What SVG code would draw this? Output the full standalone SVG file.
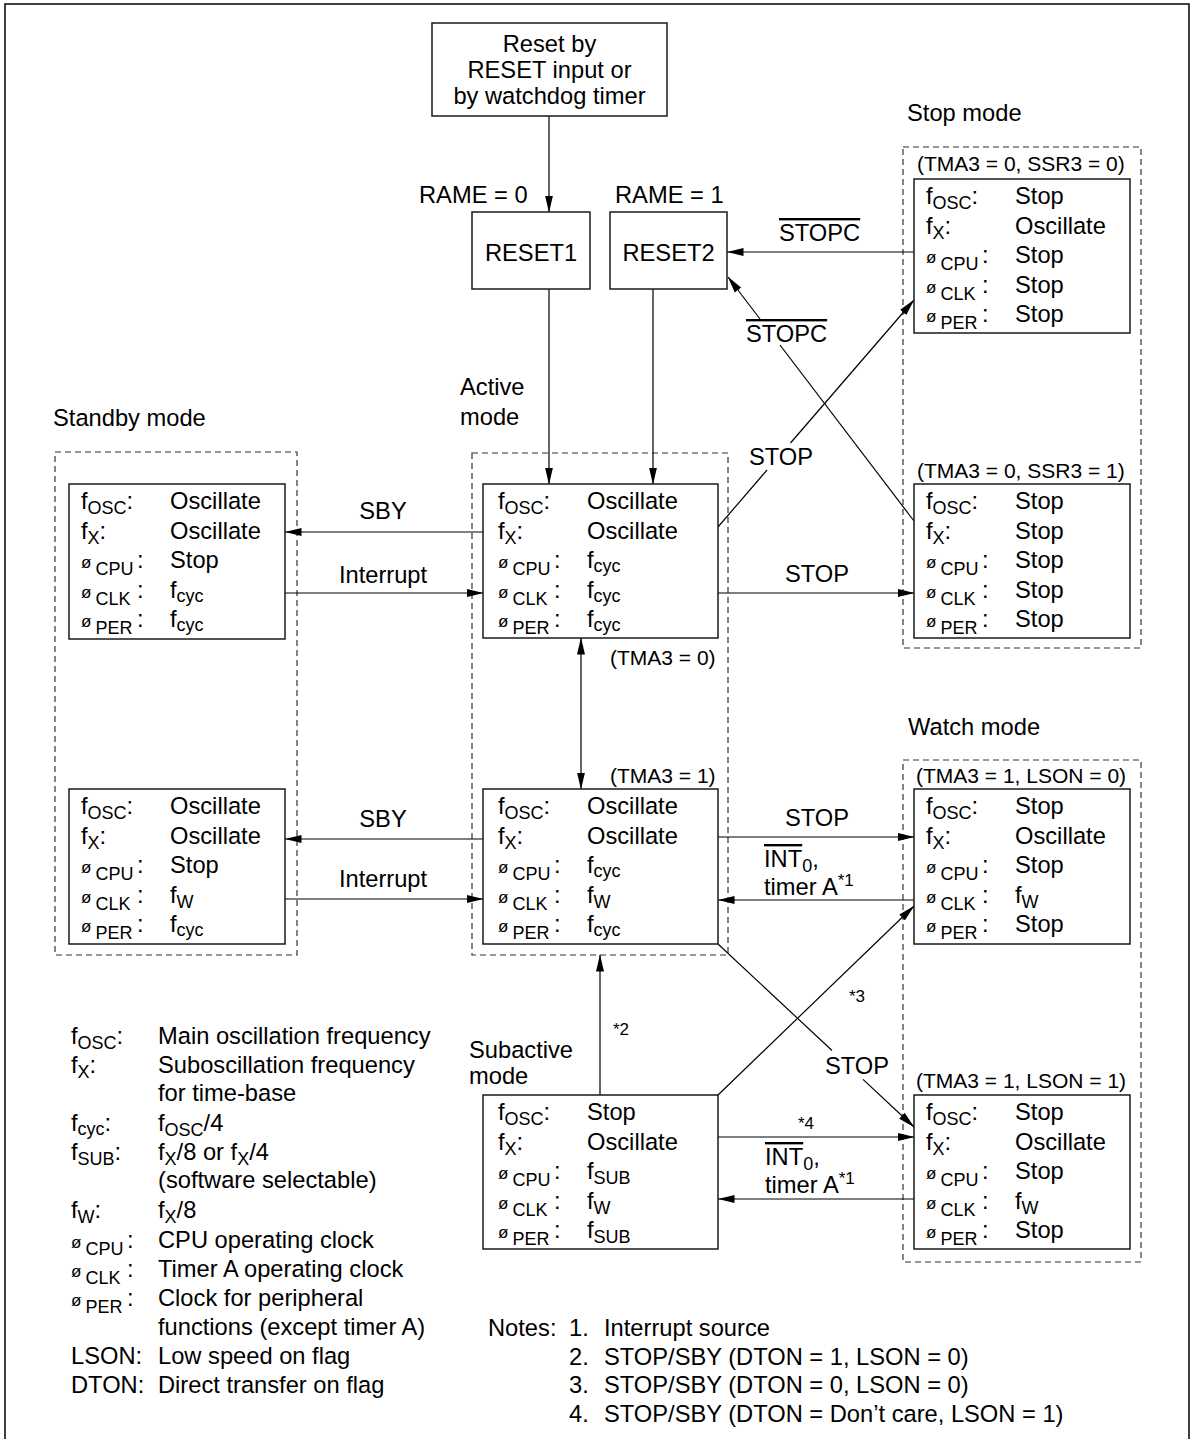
<svg xmlns="http://www.w3.org/2000/svg" width="1197" height="1439" viewBox="0 0 1197 1439">
<style>
text{font-family:"Liberation Sans",Arial,Helvetica,sans-serif;font-size:23.7px;fill:#000}
.s{font-size:18px}
.p{font-size:17px}
.tm{font-size:21px}
.sm{font-size:17px}
.box{fill:#fff;stroke:#1a1a1a;stroke-width:1.5}
.dash{fill:none;stroke:#333;stroke-width:1.2;stroke-dasharray:6 4}
.ln{fill:none;stroke:#000;stroke-width:1.2}
.a{marker-end:url(#ah)}
.aa{marker-end:url(#ah);marker-start:url(#ah)}
.mid{text-anchor:middle}
.ov{text-decoration:overline}
</style>
<defs>
<marker id="ah" markerUnits="userSpaceOnUse" viewBox="0 0 17 9" markerWidth="17" markerHeight="9" refX="16.5" refY="4.5" orient="auto-start-reverse">
<path d="M0,0.5 L17,4.5 L0,8.5 z" fill="#000"/>
</marker>
</defs>
<rect width="1197" height="1439" fill="#fff"/>
<path d="M5,1445 V4 H1189 V1445" fill="none" stroke="#000" stroke-width="1.5"/>

<g id="containers">
<rect class="dash" x="55" y="452" width="242" height="503"/>
<rect class="dash" x="472" y="453" width="256" height="502"/>
<rect class="dash" x="903" y="147" width="238" height="501"/>
<rect class="dash" x="903" y="760" width="238" height="502"/>
<text x="53" y="426">Standby mode</text>
<text x="460" y="395">Active</text>
<text x="460" y="425">mode</text>
<text x="907" y="121">Stop mode</text>
<text x="908" y="735">Watch mode</text>
<text x="469" y="1058">Subactive</text>
<text x="469" y="1084">mode</text>
</g>

<g id="connectors">
<path class="ln a" d="M549,116 V212"/>
<path class="ln a" d="M549,289 V484"/>
<path class="ln a" d="M653,289 V484"/>
<path class="ln a" d="M914,252 H727"/>
<path class="ln" d="M914,521 L780,345"/>
<path class="ln a" d="M760,319 L728,277"/>
<path class="ln" d="M718,527 L767,470"/>
<path class="ln a" d="M790.5,443 L914,300"/>
<path class="ln a" d="M718,593 H914"/>
<path class="ln a" d="M483,532 H285"/>
<path class="ln a" d="M285,593 H483"/>
<path class="ln aa" d="M581,638 V789"/>
<path class="ln a" d="M483,839 H285"/>
<path class="ln a" d="M285,899 H483"/>
<path class="ln a" d="M718,837 H914"/>
<path class="ln a" d="M914,900 H718"/>
<path class="ln a" d="M600,1095 V955"/>
<path class="ln a" d="M718,1095 L914,906"/>
<path class="ln" d="M718,944 L832,1050.5"/>
<path class="ln a" d="M863,1079.4 L914,1127"/>
<path class="ln a" d="M718,1137 H914"/>
<path class="ln a" d="M914,1199 H718"/>
</g>

<g id="connector-labels">
<text x="779" y="241" class="ov">STOPC</text>
<text x="746" y="342" class="ov">STOPC</text>
<text x="749" y="465">STOP</text>
<text x="817" y="582" class="mid">STOP</text>
<text x="383" y="519" class="mid">SBY</text>
<text x="383" y="583" class="mid">Interrupt</text>
<text x="383" y="827" class="mid">SBY</text>
<text x="383" y="887" class="mid">Interrupt</text>
<text x="817" y="826" class="mid">STOP</text>
<text x="764" y="867"><tspan class="ov">INT</tspan><tspan class="s" dy="5">0</tspan><tspan dy="-5">,</tspan></text>
<text x="764" y="895">timer A<tspan class="p" dy="-9">*1</tspan></text>
<text x="849" y="1002" class="sm">*3</text>
<text x="613" y="1035" class="sm">*2</text>
<text x="825" y="1074">STOP</text>
<text x="798" y="1129" class="sm">*4</text>
<text x="765" y="1165"><tspan class="ov">INT</tspan><tspan class="s" dy="5">0</tspan><tspan dy="-5">,</tspan></text>
<text x="765" y="1193">timer A<tspan class="p" dy="-9">*1</tspan></text>
<text x="419" y="203">RAME = 0</text>
<text x="615" y="203">RAME = 1</text>
<text x="610" y="665" class="tm">(TMA3 = 0)</text>
<text x="610" y="783" class="tm">(TMA3 = 1)</text>
<text x="917" y="171" class="tm">(TMA3 = 0, SSR3 = 0)</text>
<text x="917" y="478" class="tm">(TMA3 = 0, SSR3 = 1)</text>
<text x="916" y="783" class="tm">(TMA3 = 1, LSON = 0)</text>
<text x="916" y="1088" class="tm">(TMA3 = 1, LSON = 1)</text>
</g>

<g id="reset-source">
<rect class="box" x="432" y="23" width="235" height="93"/>
<text x="549.5" y="52" class="mid">Reset by</text>
<text x="549.5" y="78" class="mid">RESET input or</text>
<text x="549.5" y="104" class="mid">by watchdog timer</text>
</g>

<g id="reset1">
<rect class="box" x="472" y="212" width="118" height="77"/>
<text x="531" y="261" class="mid">RESET1</text>
</g>

<g id="reset2">
<rect class="box" x="610" y="212" width="117" height="77"/>
<text x="668.5" y="261" class="mid">RESET2</text>
</g>

<g id="standby-1">
<rect class="box" x="69" y="484" width="216" height="155"/>
<text x="81" y="509">f<tspan class="s" dy="5">OSC</tspan><tspan dy="-5">:</tspan></text>
<text x="81" y="538.5">f<tspan class="s" dy="5">X</tspan><tspan dy="-5">:</tspan></text>
<text x="81" y="568"><tspan class="p">ø</tspan><tspan class="s" dx="4" dy="7">CPU</tspan><tspan x="137" dy="-7">:</tspan></text>
<text x="81" y="597.5"><tspan class="p">ø</tspan><tspan class="s" dx="4" dy="7">CLK</tspan><tspan x="137" dy="-7">:</tspan></text>
<text x="81" y="627"><tspan class="p">ø</tspan><tspan class="s" dx="4" dy="7">PER</tspan><tspan x="137" dy="-7">:</tspan></text>
<text x="170" y="509">Oscillate</text>
<text x="170" y="538.5">Oscillate</text>
<text x="170" y="568">Stop</text>
<text x="170" y="597.5">f<tspan class="s" dy="4">cyc</tspan></text>
<text x="170" y="627">f<tspan class="s" dy="4">cyc</tspan></text>
</g>

<g id="standby-2">
<rect class="box" x="69" y="789" width="216" height="155"/>
<text x="81" y="814">f<tspan class="s" dy="5">OSC</tspan><tspan dy="-5">:</tspan></text>
<text x="81" y="843.5">f<tspan class="s" dy="5">X</tspan><tspan dy="-5">:</tspan></text>
<text x="81" y="873"><tspan class="p">ø</tspan><tspan class="s" dx="4" dy="7">CPU</tspan><tspan x="137" dy="-7">:</tspan></text>
<text x="81" y="902.5"><tspan class="p">ø</tspan><tspan class="s" dx="4" dy="7">CLK</tspan><tspan x="137" dy="-7">:</tspan></text>
<text x="81" y="932"><tspan class="p">ø</tspan><tspan class="s" dx="4" dy="7">PER</tspan><tspan x="137" dy="-7">:</tspan></text>
<text x="170" y="814">Oscillate</text>
<text x="170" y="843.5">Oscillate</text>
<text x="170" y="873">Stop</text>
<text x="170" y="902.5">f<tspan class="s" dy="5">W</tspan></text>
<text x="170" y="932">f<tspan class="s" dy="4">cyc</tspan></text>
</g>

<g id="active-1">
<rect class="box" x="483" y="484" width="235" height="154"/>
<text x="498" y="509">f<tspan class="s" dy="5">OSC</tspan><tspan dy="-5">:</tspan></text>
<text x="498" y="538.5">f<tspan class="s" dy="5">X</tspan><tspan dy="-5">:</tspan></text>
<text x="498" y="568"><tspan class="p">ø</tspan><tspan class="s" dx="4" dy="7">CPU</tspan><tspan x="554" dy="-7">:</tspan></text>
<text x="498" y="597.5"><tspan class="p">ø</tspan><tspan class="s" dx="4" dy="7">CLK</tspan><tspan x="554" dy="-7">:</tspan></text>
<text x="498" y="627"><tspan class="p">ø</tspan><tspan class="s" dx="4" dy="7">PER</tspan><tspan x="554" dy="-7">:</tspan></text>
<text x="587" y="509">Oscillate</text>
<text x="587" y="538.5">Oscillate</text>
<text x="587" y="568">f<tspan class="s" dy="4">cyc</tspan></text>
<text x="587" y="597.5">f<tspan class="s" dy="4">cyc</tspan></text>
<text x="587" y="627">f<tspan class="s" dy="4">cyc</tspan></text>
</g>

<g id="active-2">
<rect class="box" x="483" y="789" width="235" height="155"/>
<text x="498" y="814">f<tspan class="s" dy="5">OSC</tspan><tspan dy="-5">:</tspan></text>
<text x="498" y="843.5">f<tspan class="s" dy="5">X</tspan><tspan dy="-5">:</tspan></text>
<text x="498" y="873"><tspan class="p">ø</tspan><tspan class="s" dx="4" dy="7">CPU</tspan><tspan x="554" dy="-7">:</tspan></text>
<text x="498" y="902.5"><tspan class="p">ø</tspan><tspan class="s" dx="4" dy="7">CLK</tspan><tspan x="554" dy="-7">:</tspan></text>
<text x="498" y="932"><tspan class="p">ø</tspan><tspan class="s" dx="4" dy="7">PER</tspan><tspan x="554" dy="-7">:</tspan></text>
<text x="587" y="814">Oscillate</text>
<text x="587" y="843.5">Oscillate</text>
<text x="587" y="873">f<tspan class="s" dy="4">cyc</tspan></text>
<text x="587" y="902.5">f<tspan class="s" dy="5">W</tspan></text>
<text x="587" y="932">f<tspan class="s" dy="4">cyc</tspan></text>
</g>

<g id="stop-1">
<rect class="box" x="914" y="179" width="216" height="154"/>
<text x="926" y="204">f<tspan class="s" dy="5">OSC</tspan><tspan dy="-5">:</tspan></text>
<text x="926" y="233.5">f<tspan class="s" dy="5">X</tspan><tspan dy="-5">:</tspan></text>
<text x="926" y="263"><tspan class="p">ø</tspan><tspan class="s" dx="4" dy="7">CPU</tspan><tspan x="982" dy="-7">:</tspan></text>
<text x="926" y="292.5"><tspan class="p">ø</tspan><tspan class="s" dx="4" dy="7">CLK</tspan><tspan x="982" dy="-7">:</tspan></text>
<text x="926" y="322"><tspan class="p">ø</tspan><tspan class="s" dx="4" dy="7">PER</tspan><tspan x="982" dy="-7">:</tspan></text>
<text x="1015" y="204">Stop</text>
<text x="1015" y="233.5">Oscillate</text>
<text x="1015" y="263">Stop</text>
<text x="1015" y="292.5">Stop</text>
<text x="1015" y="322">Stop</text>
</g>

<g id="stop-2">
<rect class="box" x="914" y="484" width="216" height="154"/>
<text x="926" y="509">f<tspan class="s" dy="5">OSC</tspan><tspan dy="-5">:</tspan></text>
<text x="926" y="538.5">f<tspan class="s" dy="5">X</tspan><tspan dy="-5">:</tspan></text>
<text x="926" y="568"><tspan class="p">ø</tspan><tspan class="s" dx="4" dy="7">CPU</tspan><tspan x="982" dy="-7">:</tspan></text>
<text x="926" y="597.5"><tspan class="p">ø</tspan><tspan class="s" dx="4" dy="7">CLK</tspan><tspan x="982" dy="-7">:</tspan></text>
<text x="926" y="627"><tspan class="p">ø</tspan><tspan class="s" dx="4" dy="7">PER</tspan><tspan x="982" dy="-7">:</tspan></text>
<text x="1015" y="509">Stop</text>
<text x="1015" y="538.5">Stop</text>
<text x="1015" y="568">Stop</text>
<text x="1015" y="597.5">Stop</text>
<text x="1015" y="627">Stop</text>
</g>

<g id="watch-1">
<rect class="box" x="914" y="789" width="216" height="155"/>
<text x="926" y="814">f<tspan class="s" dy="5">OSC</tspan><tspan dy="-5">:</tspan></text>
<text x="926" y="843.5">f<tspan class="s" dy="5">X</tspan><tspan dy="-5">:</tspan></text>
<text x="926" y="873"><tspan class="p">ø</tspan><tspan class="s" dx="4" dy="7">CPU</tspan><tspan x="982" dy="-7">:</tspan></text>
<text x="926" y="902.5"><tspan class="p">ø</tspan><tspan class="s" dx="4" dy="7">CLK</tspan><tspan x="982" dy="-7">:</tspan></text>
<text x="926" y="932"><tspan class="p">ø</tspan><tspan class="s" dx="4" dy="7">PER</tspan><tspan x="982" dy="-7">:</tspan></text>
<text x="1015" y="814">Stop</text>
<text x="1015" y="843.5">Oscillate</text>
<text x="1015" y="873">Stop</text>
<text x="1015" y="902.5">f<tspan class="s" dy="5">W</tspan></text>
<text x="1015" y="932">Stop</text>
</g>

<g id="watch-2">
<rect class="box" x="914" y="1095" width="216" height="154"/>
<text x="926" y="1120">f<tspan class="s" dy="5">OSC</tspan><tspan dy="-5">:</tspan></text>
<text x="926" y="1149.5">f<tspan class="s" dy="5">X</tspan><tspan dy="-5">:</tspan></text>
<text x="926" y="1179"><tspan class="p">ø</tspan><tspan class="s" dx="4" dy="7">CPU</tspan><tspan x="982" dy="-7">:</tspan></text>
<text x="926" y="1208.5"><tspan class="p">ø</tspan><tspan class="s" dx="4" dy="7">CLK</tspan><tspan x="982" dy="-7">:</tspan></text>
<text x="926" y="1238"><tspan class="p">ø</tspan><tspan class="s" dx="4" dy="7">PER</tspan><tspan x="982" dy="-7">:</tspan></text>
<text x="1015" y="1120">Stop</text>
<text x="1015" y="1149.5">Oscillate</text>
<text x="1015" y="1179">Stop</text>
<text x="1015" y="1208.5">f<tspan class="s" dy="5">W</tspan></text>
<text x="1015" y="1238">Stop</text>
</g>

<g id="subactive">
<rect class="box" x="483" y="1095" width="235" height="154"/>
<text x="498" y="1120">f<tspan class="s" dy="5">OSC</tspan><tspan dy="-5">:</tspan></text>
<text x="498" y="1149.5">f<tspan class="s" dy="5">X</tspan><tspan dy="-5">:</tspan></text>
<text x="498" y="1179"><tspan class="p">ø</tspan><tspan class="s" dx="4" dy="7">CPU</tspan><tspan x="554" dy="-7">:</tspan></text>
<text x="498" y="1208.5"><tspan class="p">ø</tspan><tspan class="s" dx="4" dy="7">CLK</tspan><tspan x="554" dy="-7">:</tspan></text>
<text x="498" y="1238"><tspan class="p">ø</tspan><tspan class="s" dx="4" dy="7">PER</tspan><tspan x="554" dy="-7">:</tspan></text>
<text x="587" y="1120">Stop</text>
<text x="587" y="1149.5">Oscillate</text>
<text x="587" y="1179">f<tspan class="s" dy="5">SUB</tspan></text>
<text x="587" y="1208.5">f<tspan class="s" dy="5">W</tspan></text>
<text x="587" y="1238">f<tspan class="s" dy="5">SUB</tspan></text>
</g>

<g id="legend">
<text x="71" y="1044">f<tspan class="s" dy="5">OSC</tspan><tspan dy="-5">:</tspan></text>
<text x="158" y="1044">Main oscillation frequency</text>
<text x="71" y="1073">f<tspan class="s" dy="5">X</tspan><tspan dy="-5">:</tspan></text>
<text x="158" y="1073">Suboscillation frequency</text>
<text x="158" y="1101">for time-base</text>
<text x="71" y="1131">f<tspan class="s" dy="4">cyc</tspan><tspan dy="-4">:</tspan></text>
<text x="158" y="1131">f<tspan class="s" dy="5">OSC</tspan><tspan dy="-5">/4</tspan></text>
<text x="71" y="1160">f<tspan class="s" dy="5">SUB</tspan><tspan dy="-5">:</tspan></text>
<text x="158" y="1160">f<tspan class="s" dy="5">X</tspan><tspan dy="-5">/8 or f</tspan><tspan class="s" dy="5">X</tspan><tspan dy="-5">/4</tspan></text>
<text x="158" y="1188">(software selectable)</text>
<text x="71" y="1218">f<tspan class="s" dy="5">W</tspan><tspan dy="-5">:</tspan></text>
<text x="158" y="1218">f<tspan class="s" dy="5">X</tspan><tspan dy="-5">/8</tspan></text>
<text x="71" y="1248"><tspan class="p">ø</tspan><tspan class="s" dx="4" dy="7">CPU</tspan><tspan x="127" dy="-7">:</tspan></text>
<text x="158" y="1248">CPU operating clock</text>
<text x="71" y="1277"><tspan class="p">ø</tspan><tspan class="s" dx="4" dy="7">CLK</tspan><tspan x="127" dy="-7">:</tspan></text>
<text x="158" y="1277">Timer A operating clock</text>
<text x="71" y="1306"><tspan class="p">ø</tspan><tspan class="s" dx="4" dy="7">PER</tspan><tspan x="127" dy="-7">:</tspan></text>
<text x="158" y="1306">Clock for peripheral</text>
<text x="158" y="1335">functions (except timer A)</text>
<text x="71" y="1364">LSON:</text>
<text x="158" y="1364">Low speed on flag</text>
<text x="71" y="1393">DTON:</text>
<text x="158" y="1393">Direct transfer on flag</text>
</g>

<g id="notes">
<text x="488" y="1336">Notes:</text>
<text x="569" y="1336">1.</text>
<text x="604" y="1336">Interrupt source</text>
<text x="569" y="1365">2.</text>
<text x="604" y="1365">STOP/SBY (DTON = 1, LSON = 0)</text>
<text x="569" y="1393">3.</text>
<text x="604" y="1393">STOP/SBY (DTON = 0, LSON = 0)</text>
<text x="569" y="1422">4.</text>
<text x="604" y="1422">STOP/SBY (DTON = Don’t care, LSON = 1)</text>
</g>
</svg>
